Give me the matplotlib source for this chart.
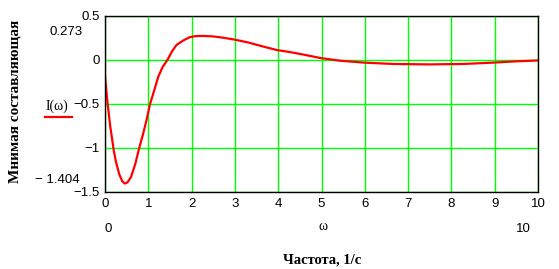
import numpy as np
import matplotlib.pyplot as plt

# values
omega = [0.0, 0.05, 0.12, 0.2, 0.25, 0.33, 0.4, 0.46, 0.52, 0.6, 0.7, 0.79, 0.88,
         0.96, 1.04, 1.14, 1.23, 1.33, 1.44, 1.55, 1.65, 1.8, 1.96, 2.1, 2.27,
         2.5, 2.7, 2.96, 3.3, 3.6, 3.96, 4.27, 4.6, 4.97, 5.43, 5.99, 6.66,
         7.5, 8.27, 8.96, 9.5, 10.0]
im_part = [-0.18, -0.45, -0.75, -1.02, -1.15, -1.3, -1.38, -1.404, -1.39, -1.33,
           -1.18, -1.0, -0.84, -0.68, -0.5, -0.34, -0.19, -0.08, 0.0, 0.1, 0.17,
           0.22, 0.26, 0.272, 0.273, 0.268, 0.255, 0.235, 0.2, 0.16, 0.114,
           0.09, 0.06, 0.023, -0.008, -0.03, -0.045, -0.05, -0.045, -0.03,
           -0.015, -0.005]
x_ticks = [0, 1, 2, 3, 4, 5, 6, 7, 8, 9, 10]
y_ticks = [0.5, 0, -0.5, -1, -1.5]


def main():
  fig = plt.figure(figsize=(5.59, 2.69), dpi=100)
  ax = fig.add_axes([105 / 559, 77 / 269, 433 / 559, 176 / 269])

  ax.plot(omega, im_part, color='#ff0000', linewidth=1.6, zorder=3)
  ax.set_xlim(0, 10)
  ax.set_ylim(-1.5, 0.5)
  ax.set_xticks(x_ticks)
  ax.set_yticks(y_ticks)
  ax.set_xticklabels([str(t) for t in x_ticks])
  ax.set_yticklabels(['0.5', '0', '\u22120.5', '\u22121', '\u22121.5'])
  ax.grid(True, color='#00ff00', linewidth=1.0)
  ax.tick_params(length=0, labelsize=9.5, pad=4)
  for lbl in ax.get_xticklabels() + ax.get_yticklabels():
    lbl.set_family('Liberation Sans')
  for s in ax.spines.values():
    s.set_color('black')
    s.set_linewidth(1.0)
    s.set_zorder(4)

  sans = dict(family='Liberation Sans', fontsize=9.5)
  fig.text(66 / 559, 1 - 32 / 269, '0.273', ha='center', va='center', **sans)
  fig.text(57 / 559, 1 - 180 / 269, '\u2212 1.404', ha='center', va='center', **sans)
  fig.text(108 / 559, 1 - 229 / 269, '0', ha='center', va='center', **sans)
  fig.text(523 / 559, 1 - 229 / 269, '10', ha='center', va='center', **sans)
  fig.text(323 / 559, 1 - 227 / 269, '\u03c9', ha='center', va='center',
           family='Liberation Serif', fontsize=10)
  fig.text(57 / 559, 1 - 106 / 269, 'I(\u03c9)', ha='center', va='center',
           family='Liberation Serif', fontsize=10)
  fig.add_artist(plt.Line2D([45 / 559, 72 / 559], [1 - 117 / 269, 1 - 117 / 269],
                            color='#ff0000', linewidth=1.6))

  fig.text(15 / 559, 1 - 101 / 269, 'Мнимая составляющая', rotation=90,
           ha='center', va='center', family='Liberation Serif',
           fontweight='bold', fontsize=11)
  fig.text(322 / 559, 1 - 260 / 269, 'Частота, 1/с', ha='center', va='center',
           family='Liberation Serif', fontweight='bold', fontsize=10.5)

  fig.savefig('out.png', dpi=100, facecolor='white')


if __name__ == '__main__':
  main()
